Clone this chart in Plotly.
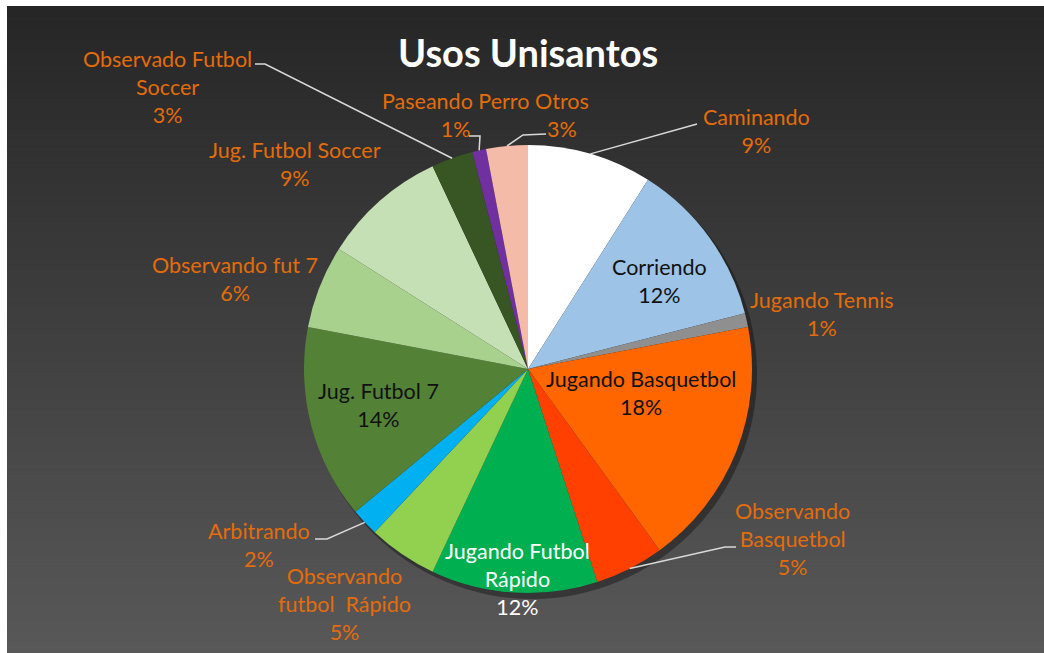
import math
import plotly.graph_objects as go

# ---------------- data ----------------
categories = ["Caminando", "Corriendo", "Jugando Tennis", "Jugando Basquetbol",
              "Observando Basquetbol", "Jugando Futbol Rápido", "Observando futbol Rápido",
              "Arbitrando", "Jug. Futbol 7", "Observando fut 7", "Jug. Futbol Soccer",
              "Observado Futbol Soccer", "Paseando Perro", "Otros"]
values = [9, 12, 1, 18, 5, 12, 5, 2, 14, 6, 9, 3, 1, 3]
display_names = ["Caminando", "Corriendo", "Jugando Tennis", "Jugando Basquetbol",
                 "Observando<br>Basquetbol", "Jugando Futbol<br>Rápido", "Observando<br>futbol  Rápido",
                 "Arbitrando", "Jug. Futbol 7", "Observando fut 7", "Jug. Futbol Soccer",
                 "Observado Futbol<br>Soccer", "Paseando Perro", "Otros"]
title_text = "Usos Unisantos"

# ---------------- styles ----------------
colors = ["#FFFFFF", "#9DC3E6", "#8F8F8F", "#FF6600", "#FF4000", "#00B050", "#92D050",
          "#00B0F0", "#538135", "#A9D18E", "#C5E0B4", "#375623", "#7030A0", "#F4BBA8"]
ORANGE = "#E46C0A"
label_colors = [ORANGE, "#111111", ORANGE, "#111111", ORANGE, "#FFFFFF", ORANGE,
                ORANGE, "#111111", ORANGE, ORANGE, ORANGE, ORANGE, ORANGE]
# label block centres (pixels)
label_pos = [(756, 131), (659, 281), (822, 314), (641, 393), (792, 539), (517, 579),
             (344, 604), (259, 545), (378, 405), (235, 279), (295, 164), (167, 87),
             (455, 115), (562, 115)]
# leader lines: (elbow, end) in pixels
leaders = {0: [(697, 124)], 4: [(725, 547), (736, 547)], 7: [(327, 539), (315, 539)],
           11: [(265, 64), (255, 64)], 12: [(480, 136), (469, 136)],
           13: [(523, 135), (546, 134)]}

W, H = 1044, 653
CX, CY, R = 528, 369, 224
FONT = "Lato"
LABEL_SIZE = 21.5

fig = go.Figure()

# background gradient
shapes = []
top_c, bot_c = (38, 38, 38), (88, 88, 88)
N = 120
y_start, y_end = 6, H
for i in range(N):
    t = i / (N - 1)
    c = tuple(round(top_c[k] + (bot_c[k] - top_c[k]) * t) for k in range(3))
    y0 = y_start + (y_end - y_start) * i / N
    y1 = y_start + (y_end - y_start) * (i + 1) / N + 0.8
    shapes.append(dict(type="rect", xref="x", yref="y", x0=7, x1=W, y0=y0, y1=y1,
                       fillcolor="rgb(%d,%d,%d)" % c, line=dict(width=0), layer="below"))
# pie shadow
shapes.append(dict(type="circle", xref="x", yref="y", x0=CX - R + 3, x1=CX + R + 5,
                   y0=CY - R + 4, y1=CY + R + 6, fillcolor="rgba(0,0,0,0.35)",
                   line=dict(width=0), layer="below"))

fig.add_trace(go.Pie(
    labels=categories, values=values, sort=False, direction="clockwise", rotation=0,
    marker=dict(colors=colors, line=dict(width=0)), textinfo="none", hoverinfo="skip",
    domain=dict(x=[(CX - R) / W, (CX + R) / W], y=[1 - (CY + R) / H, 1 - (CY - R) / H]),
    showlegend=False))

# leader lines computed from slice mid-angles
total = sum(values)
cum = 0
for i, v in enumerate(values):
    mid = (cum + v / 2) / total * 2 * math.pi
    cum += v
    if i in leaders:
        sx = CX + R * math.sin(mid)
        sy = CY - R * math.cos(mid)
        pts = [(sx, sy)] + leaders[i]
        path = "M %f %f " % pts[0] + " ".join("L %f %f" % p for p in pts[1:])
        shapes.append(dict(type="path", xref="x", yref="y", path=path,
                           line=dict(color="#D9D9D9", width=1.5)))

annotations = []
for i, (name, v) in enumerate(zip(display_names, values)):
    x, y = label_pos[i]
    annotations.append(dict(x=x, y=y, xref="x", yref="y", text=f"{name}<br>{v}%",
                            showarrow=False, xanchor="center", yanchor="middle",
                            font=dict(family=FONT, size=LABEL_SIZE, color=label_colors[i])))
annotations.append(dict(x=528, y=52, xref="x", yref="y", text=f"<b>{title_text}</b>",
                        showarrow=False, xanchor="center", yanchor="middle",
                        font=dict(family=FONT, size=38, color="#FFFFFF")))

fig.update_layout(
    width=W, height=H, margin=dict(l=0, r=0, t=0, b=0),
    paper_bgcolor="#FFFFFF", plot_bgcolor="rgba(0,0,0,0)",
    xaxis=dict(range=[0, W], visible=False, domain=[0, 1], fixedrange=True),
    yaxis=dict(range=[H, 0], visible=False, domain=[0, 1], fixedrange=True),
    shapes=shapes, annotations=annotations,
)
fig.write_html("out.html")
